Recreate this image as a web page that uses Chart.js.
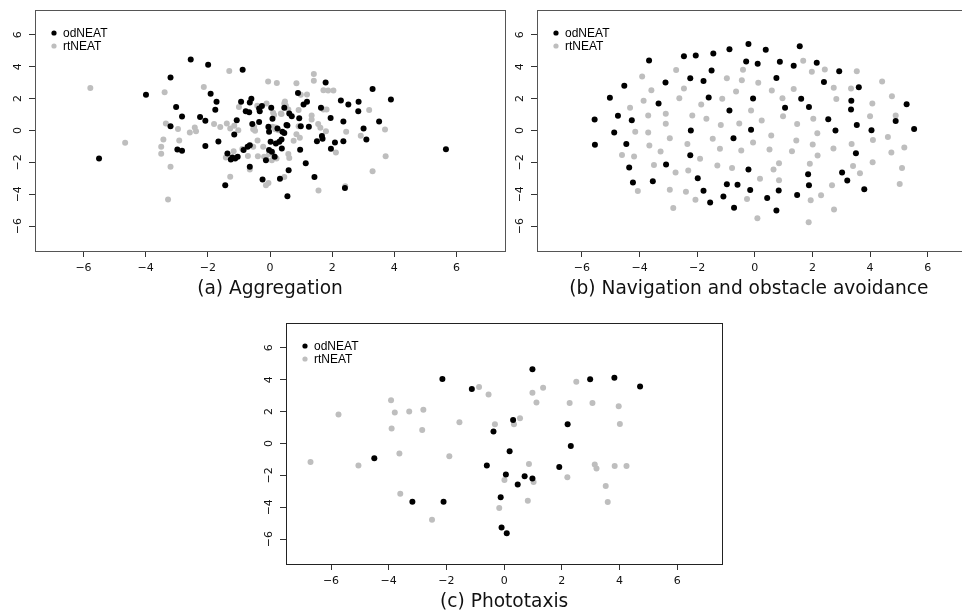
<!DOCTYPE html>
<html>
<head>
<meta charset="utf-8">
<script src="https://cdn.jsdelivr.net/npm/chart.js@4.4.1/dist/chart.umd.min.js"></script>
<style>
  html, body { margin: 0; padding: 0; background: #fff; overflow: hidden; }
  body { width: 962px; height: 614px; position: relative; }
  canvas { position: absolute; }
</style>
</head>
<body>
<canvas id="aggChart" width="520" height="304" style="left:0;top:0"></canvas>
<canvas id="navChart" width="490" height="304" style="left:500px;top:0"></canvas>
<canvas id="photoChart" width="490" height="304" style="left:250px;top:313px"></canvas>
<script>
const seriesNames = ['odNEAT', 'rtNEAT'];
const seriesColors = ['#000000', '#bebebe'];
const axisTicks = [-6, -4, -2, 0, 2, 4, 6];
const axisLimit = 7.56;
const panelTitles = ['(a) Aggregation', '(b) Navigation and obstacle avoidance', '(c) Phototaxis'];

// (a) aggregation
const aggOd = [[-2.55,4.46],[-1.99,4.12],[-3.2,3.33],[-0.88,3.81],[-3.99,2.24],[-1.91,2.3],[-1.72,1.8],[-1.76,1.3],[-3.02,1.48],[-2.83,0.88],[-2.25,0.84],[-2.08,0.61],[-3.2,0.26],[-1.07,0.65],[-0.93,1.81],[-0.78,1.21],[-0.67,1.15],[-0.6,1.99],[-0.65,1.76],[-0.35,1.38],[-0.26,1.53],[-0.33,1.21],[0.04,1.42],[-0.35,0.54],[-0.57,0.4],[-0.05,0.23],[-0.03,-0.08],[0.08,0.73],[0.24,0.13],[0.4,-0.08],[0.46,-0.15],[0.53,0.34],[0.02,-0.71],[0.19,-0.81],[0.3,-0.71],[0.38,-1.13],[-0.13,-1.86],[-0.03,-1.23],[0.06,-1.34],[0.15,-1.65],[-0.72,-1.02],[-0.65,-0.92],[-0.85,-1.23],[-1.37,-1.44],[-1.21,-1.69],[-1.12,-1.76],[-1.04,-1.65],[-1.26,-1.82],[-0.65,-2.28],[-0.24,-3.07],[0.32,-3.03],[-1.44,-3.43],[0.56,-4.13],[-1.15,-0.25],[-1.66,-0.69],[-2.08,-0.98],[-2.98,-1.19],[-2.83,-1.27],[-5.5,-1.76],[1.79,3.01],[3.3,2.61],[3.89,1.95],[5.66,-1.17],[2.28,1.88],[2.52,1.63],[2.85,1.8],[2.84,1.21],[3.51,0.57],[3.01,0.13],[3.1,-0.56],[1.95,0.79],[2.36,0.57],[2.36,-0.67],[2.09,-0.75],[1.96,-1.15],[1.64,1.42],[0.9,2.36],[1.08,1.63],[1.19,1.8],[0.94,0.77],[0.99,0.27],[1.25,0.23],[0.62,1.07],[0.7,0.9],[0.46,1.42],[0.56,0.31],[0.37,-0.56],[0.97,-1.21],[1.51,-0.67],[1.69,-0.52],[1.67,-0.35],[1.15,-2.05],[0.6,-2.49],[1.43,-2.91],[2.41,-3.6]];
const aggRt = [[-5.78,2.66],[-4.66,-0.77],[-3.39,2.4],[-2.13,2.73],[-1.31,3.74],[-3.35,0.44],[-2.96,0.1],[-2.58,-0.12],[-2.42,0.19],[-2.38,-0.04],[-1.8,0.41],[-1.6,0.22],[-1.39,0.44],[-1.28,0.13],[-1.15,0.3],[-1.02,0.02],[-1.0,1.47],[-3.43,-0.56],[-3.5,-1.02],[-3.5,-1.46],[-2.92,-0.62],[-3.2,-2.27],[-3.28,-4.33],[-1.28,-2.9],[-1.17,-1.3],[-1.42,-1.7],[-0.89,-1.16],[-0.71,-1.6],[-0.65,-2.45],[-0.06,3.08],[0.22,2.98],[0.85,2.97],[1.41,3.54],[1.41,3.12],[1.72,2.53],[1.87,2.51],[2.04,2.51],[0.99,2.24],[1.19,2.26],[3.19,1.28],[3.7,0.06],[3.72,-1.61],[3.3,-2.55],[2.42,-3.49],[1.56,-3.77],[2.12,-1.38],[2.45,-0.08],[2.92,-0.33],[1.72,1.32],[1.82,1.32],[1.34,0.94],[1.34,0.69],[1.55,0.4],[1.62,0.17],[1.8,-0.04],[0.92,1.28],[0.48,1.82],[0.51,1.55],[0.37,1.03],[0.59,1.32],[0.13,0.98],[0.08,0.23],[0.17,0.08],[0.92,0.27],[0.85,-0.23],[0.76,-0.65],[0.96,-0.46],[-0.41,1.56],[-0.11,1.7],[0.46,1.7],[0.35,1.07],[0.1,1.11],[-0.54,0.08],[-0.48,-0.02],[-0.05,0.19],[0.17,0.19],[0.27,0.02],[-0.4,-0.62],[-0.54,-1.02],[-0.39,-1.61],[-0.22,-1.02],[-0.13,-1.69],[-0.03,-1.48],[0.21,-1.76],[0.59,-1.48],[0.62,-1.73],[-0.05,-3.3],[-0.13,-3.43],[0.46,-2.91],[-0.19,-1.65],[0.08,-1.44],[0.06,-1.86],[-0.51,0.23]];

// (b) navigation and obstacle avoidance
const navOd = [[-5.56,0.69],[-5.55,-0.9],[-5.03,2.05],[-4.75,0.92],[-4.88,-0.12],[-4.53,2.8],[-4.27,0.65],[-4.46,-0.84],[-4.36,-2.32],[-4.23,-3.26],[-3.67,4.39],[-3.34,1.7],[-3.1,3.01],[-3.08,-2.13],[-3.54,-3.18],[-2.46,4.66],[-2.05,4.71],[-1.44,4.83],[-0.88,5.1],[-2.24,3.28],[-1.5,3.76],[-1.78,3.1],[-1.6,2.07],[-0.88,1.26],[-2.22,0],[-0.74,-0.48],[-2.24,-1.55],[-1.98,-2.99],[-1.78,-3.78],[-1.55,-4.52],[-1.09,-4.14],[-0.97,-3.37],[-0.6,-3.41],[-0.72,-4.85],[-0.22,5.42],[0.38,5.06],[1.56,5.29],[2.15,4.25],[-0.3,4.33],[0.1,4.18],[0.87,4.31],[1.35,4.06],[0.75,3.3],[-0.06,2.01],[1.61,1.99],[1.05,1.42],[1.88,1.48],[-0.13,0.04],[-0.22,-2.45],[1.85,-2.74],[1.88,-3.43],[-0.16,-3.74],[0.83,-3.76],[1.47,-4.04],[0.43,-4.24],[0.75,-5.02],[2.93,3.72],[2.4,3.05],[3.61,2.72],[3.35,1.86],[3.34,1.32],[5.27,1.65],[2.55,0.71],[4.89,0.59],[2.8,0],[3.54,0.34],[4.05,0.02],[5.53,0.1],[3.51,-1.42],[3.03,-2.63],[3.21,-3.13],[3.8,-3.68]];
const navRt = [[-3.91,3.39],[-2.73,3.79],[-3.59,2.53],[-2.46,2.64],[-2.62,2.03],[-3.86,1.86],[-4.33,1.42],[-3.7,0.94],[-3.09,1.05],[-3.09,0.42],[-4.15,-0.08],[-3.7,-0.12],[-4.61,-1.53],[-4.19,-1.63],[-3.66,-0.94],[-3.27,-1.32],[-2.95,-0.48],[-3.5,-2.17],[-2.75,-2.63],[-2.31,-2.51],[-2.34,-0.84],[-2.17,0.94],[-1.86,1.63],[-1.68,0.73],[-1.9,-1.78],[-1.46,-0.52],[-1.21,-1.15],[-1.3,-2.2],[-0.79,-2.36],[-1.18,0.34],[-1.13,1.99],[-0.97,3.28],[-0.65,2.45],[-2.95,-3.72],[-4.06,-3.8],[-2.39,-3.85],[-2.06,-4.35],[-2.83,-4.87],[-0.45,3.16],[-0.47,-1.25],[-0.41,3.81],[1.68,4.37],[1.98,3.68],[0.12,2.99],[1.35,2.61],[0.59,2.51],[0.96,2.03],[-0.13,1.26],[0.98,0.9],[-0.54,0.44],[0.24,0.63],[1.47,0.4],[2.03,0.73],[0.57,-0.31],[2.17,-0.17],[-0.06,-0.75],[1.44,-0.62],[0.51,-1.19],[1.29,-1.3],[2.01,-0.88],[0.18,-3.03],[0.65,-2.45],[0.84,-2.05],[0.84,-3.12],[1.91,-2.09],[-0.27,-4.29],[0.09,-5.5],[1.94,-4.37],[1.87,-5.75],[2.18,-1.57],[2.43,3.83],[3.54,3.72],[4.42,3.08],[2.74,2.68],[3.34,2.64],[4.76,2.15],[2.83,1.97],[4.08,1.7],[4.0,0.9],[4.89,0.94],[4.1,-0.6],[4.62,-0.4],[3.36,-0.84],[5.19,-1.06],[2.73,-1.13],[4.74,-1.38],[3.41,-2.22],[4.09,-1.99],[5.11,-2.36],[2.68,-3.43],[3.65,-2.68],[5.03,-3.35],[2.3,-4.06],[2.75,-4.95]];

// (c) phototaxis
const photoOd = [[-2.14,4.05],[-1.12,3.42],[-0.37,0.75],[-4.5,-0.93],[-0.6,-1.38],[-3.18,-3.65],[-2.1,-3.65],[0.98,4.66],[2.98,4.03],[3.82,4.13],[4.71,3.58],[0.31,1.47],[2.2,1.2],[2.31,-0.15],[0.19,-0.48],[1.91,-1.47],[0.06,-1.95],[0.71,-2.06],[0.98,-2.2],[0.47,-2.58],[-0.12,-3.38],[-0.09,-5.27],[0.09,-5.63]];
const photoRt = [[-0.87,3.54],[-0.54,3.08],[-3.92,2.72],[-5.74,1.82],[-3.79,1.95],[-3.29,2.01],[-2.8,2.12],[-3.9,0.94],[-2.84,0.84],[-1.55,1.34],[-0.32,1.2],[-3.63,-0.63],[-1.9,-0.8],[-6.71,-1.16],[-5.05,-1.38],[-3.6,-3.15],[-2.5,-4.78],[-0.17,-4.05],[2.5,3.88],[0.98,3.19],[1.35,3.5],[1.12,2.58],[2.27,2.54],[3.06,2.54],[3.97,2.33],[4.01,1.23],[0.55,1.59],[0.34,1.2],[0.86,-1.28],[3.14,-1.32],[3.2,-1.57],[3.83,-1.41],[4.24,-1.41],[2.19,-2.12],[0.01,-2.29],[1.02,-2.41],[3.52,-2.67],[3.59,-3.67],[0.82,-3.59]];

Chart.defaults.font.family = "'DejaVu Sans', sans-serif";
Chart.defaults.color = '#111';

const fmtTick = v => (v < 0 ? '\u2212' + Math.abs(v) : String(v));

// R style box plus the little key in the top left corner
const boxAndKey = {
  id: 'boxAndKey',
  afterDraw(chart, args, opts) {
    const { ctx, chartArea: a } = chart;
    ctx.save();
    ctx.strokeStyle = opts.frameColor;
    ctx.lineWidth = 1;
    ctx.strokeRect(Math.round(a.left) + 0.5, Math.round(a.top) + 0.5,
      Math.round(a.right - a.left), Math.round(a.bottom - a.top));
    ctx.font = "12px 'Liberation Sans', Arial, sans-serif";
    ctx.textBaseline = 'middle';
    chart.data.datasets.forEach((ds, i) => {
      const y = a.top + 23 + i * 13;
      ctx.fillStyle = ds.backgroundColor;
      ctx.beginPath();
      ctx.arc(a.left + 19, y, 2.6, 0, Math.PI * 2);
      ctx.fill();
      ctx.fillStyle = '#000';
      ctx.fillText(ds.label, a.left + 28, y + 0.5);
    });
    ctx.restore();
  }
};

function axis(extra) {
  return Object.assign({
    type: 'linear',
    min: -axisLimit,
    max: axisLimit,
    afterBuildTicks: s => { s.ticks = axisTicks.map(v => ({ value: v })); },
    grid: { drawOnChartArea: false, tickLength: 6, color: '#333' },
    border: { display: false }
  }, extra);
}

function makePanel(id, od, rt, title, yWidth, padRight, frameColor) {
  const series = [od, rt];
  new Chart(document.getElementById(id), {
    type: 'scatter',
    data: {
      datasets: series.map((pts, i) => ({
        label: seriesNames[i],
        data: pts.map(p => ({ x: p[0], y: p[1] })),
        backgroundColor: seriesColors[i],
        borderWidth: 0,
        pointRadius: 3,
        pointHoverRadius: 3
      }))
    },
    options: {
      responsive: false,
      animation: false,
      layout: { padding: { top: 10, right: padRight, left: 0, bottom: 0 } },
      plugins: {
        legend: { display: false },
        tooltip: { enabled: false },
        boxAndKey: { frameColor: frameColor }
      },
      scales: {
        x: axis({
          afterFit: s => { s.height = 53; },
          ticks: { padding: 5, autoSkip: false, maxRotation: 0, font: { size: 11 }, callback: fmtTick },
          title: { display: true, text: title, font: { size: 18.6 }, color: '#111', padding: { top: 0, bottom: 4 } }
        }),
        y: axis({
          afterFit: s => { s.width = yWidth; },
          ticks: { padding: 3, autoSkip: false, minRotation: 90, maxRotation: 90, crossAlign: 'center', font: { size: 11 }, callback: fmtTick }
        })
      }
    },
    plugins: [boxAndKey]
  });
}

makePanel('aggChart', aggOd, aggRt, panelTitles[0], 35, 15, '#555');
// the (b) caption sits a little left of its plot centre in the original, two trailing spaces nudge it
makePanel('navChart', navOd, navRt, panelTitles[1] + '\u00a0\u00a0', 37, 17.4, '#555');
makePanel('photoChart', photoOd, photoRt, panelTitles[2], 36, 17.7, '#222');
</script>
</body>
</html>
